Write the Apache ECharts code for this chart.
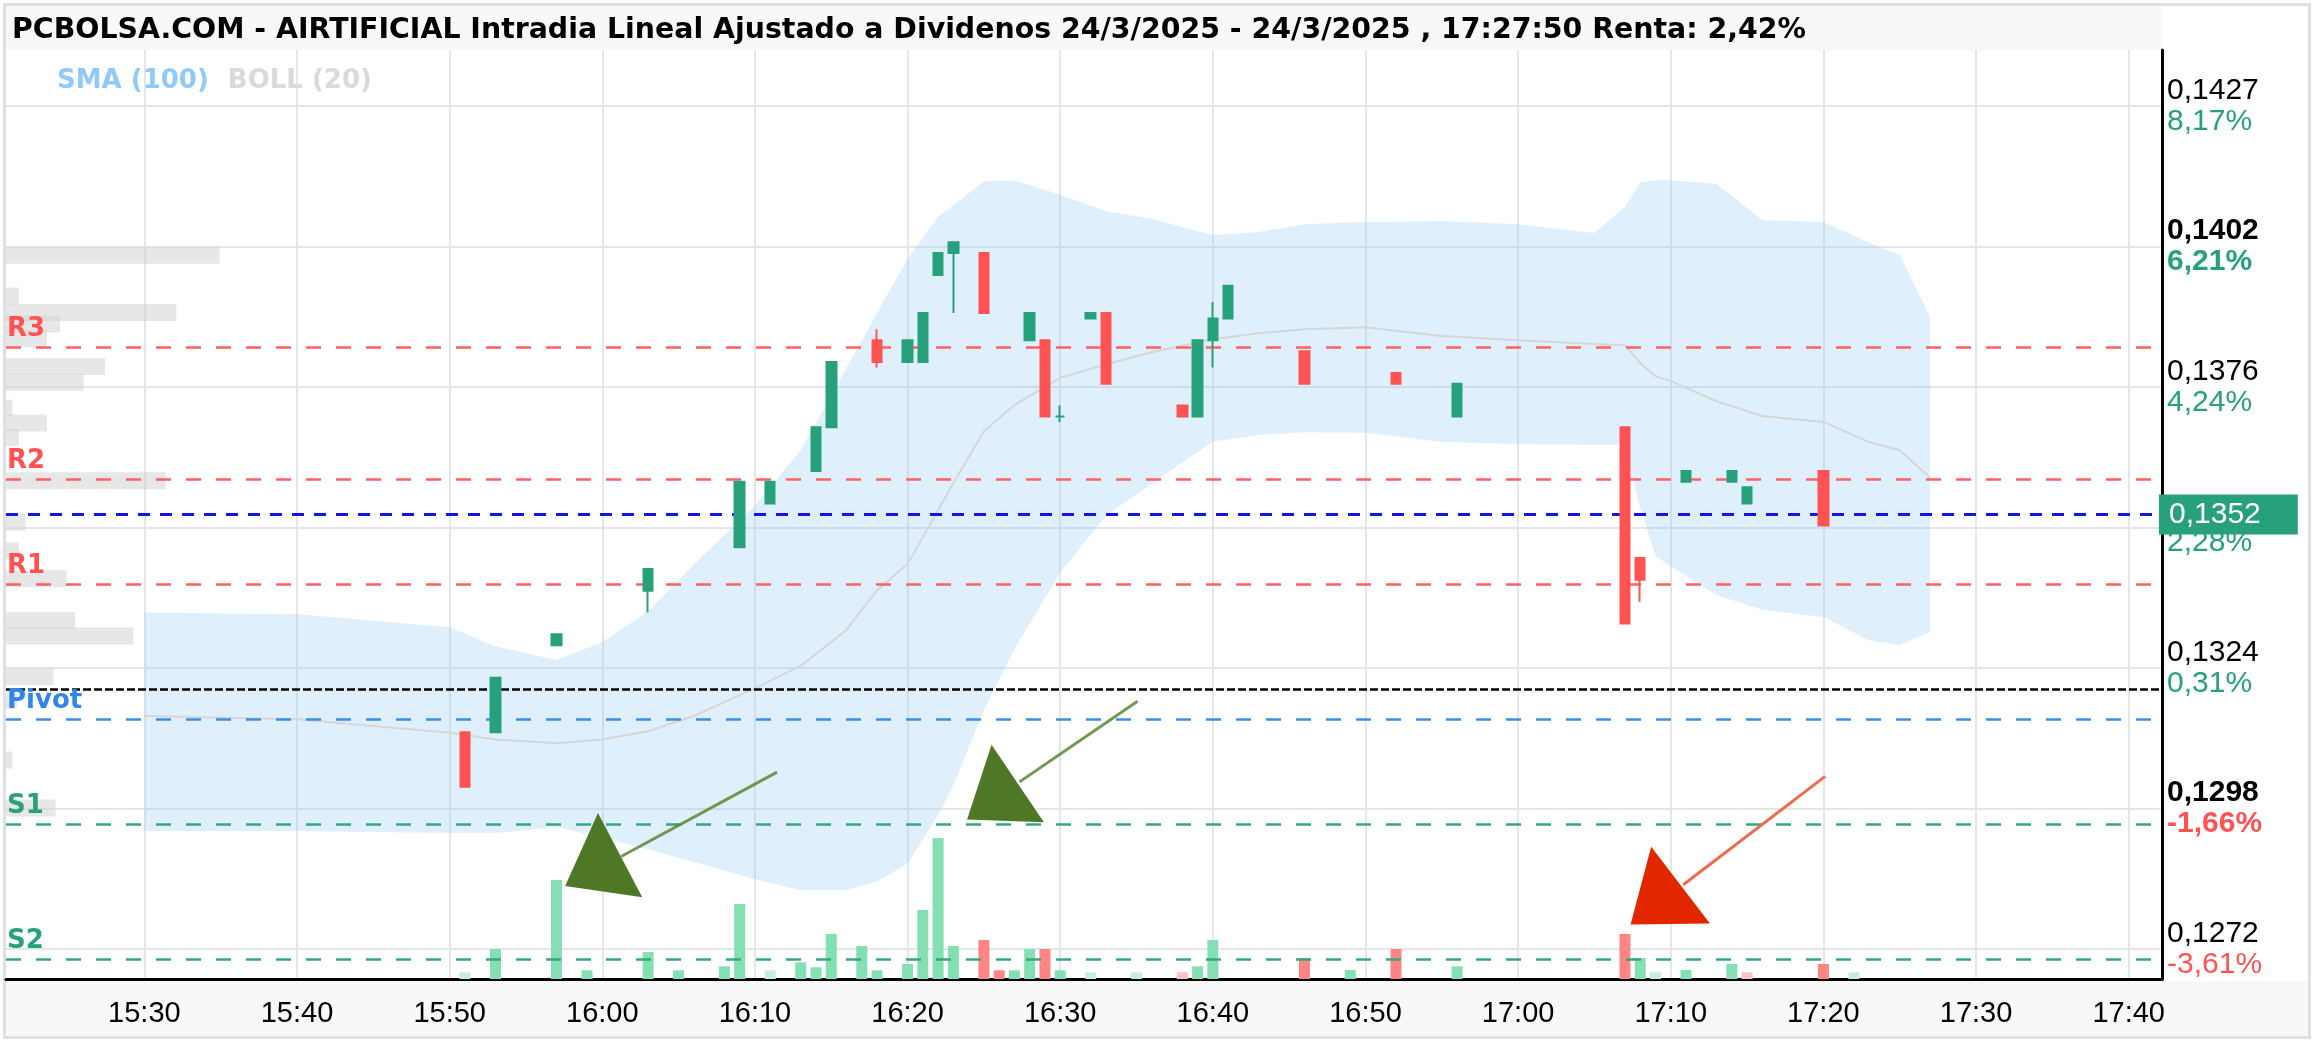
<!DOCTYPE html>
<html><head><meta charset="utf-8">
<script src="https://cdn.jsdelivr.net/npm/echarts@6/dist/echarts.min.js"></script>
<style>html,body{margin:0;padding:0;background:#fff}#c{width:2315px;height:1040px}</style>
</head><body><div id="c"></div>
<script>
// ---------------- DATA ----------------
const titleText = 'PCBOLSA.COM - AIRTIFICIAL Intradia Lineal Ajustado a Dividenos 24/3/2025 - 24/3/2025 , 17:27:50 Renta: 2,42%';

const xTickLabels = ['15:30','15:40','15:50','16:00','16:10','16:20','16:30','16:40','16:50','17:00','17:10','17:20','17:30','17:40'];

const yTickValues = [0.12722, 0.1298, 0.13238, 0.13496, 0.13754, 0.14012, 0.1427];
const yTickLabels = ['0,1272','0,1298','0,1324','0,1350','0,1376','0,1402','0,1427'];
const yTickPct    = ['-3,61%','-1,66%','0,31%','2,28%','4,24%','6,21%','8,17%'];
const boldTickLabels = ['0,1298','0,1402'];

const candleTimes = ['15:51','15:53','15:57','16:03','16:09','16:11','16:14','16:15','16:18','16:20','16:21','16:22','16:23','16:25','16:28','16:29','16:30','16:32','16:33','16:38','16:39','16:40','16:41','16:46','16:52','16:56','17:07','17:08','17:11','17:14','17:15','17:20'];
const candleOpen  = [0.1312,0.1312,0.1328,0.1338,0.1346,0.1354,0.1360,0.1368,0.1384,0.1380,0.1380,0.1396,0.1400,0.1400,0.1384,0.1384,0.1370,0.1388,0.1389,0.1372,0.1370,0.1384,0.1388,0.1382,0.1378,0.1370,0.1368,0.1344,0.1358,0.1358,0.1354,0.1360];
const candleClose = [0.1302,0.1322,0.1330,0.1342,0.1358,0.1358,0.1368,0.1380,0.1380,0.1384,0.1389,0.1400,0.1402,0.1389,0.1389,0.1370,0.1370,0.1389,0.1376,0.1370,0.1384,0.1388,0.1394,0.1376,0.1376,0.1376,0.1332,0.1340,0.1360,0.1360,0.1357,0.1350];
const candleLow   = [0.1302,0.1312,0.1328,0.1334,0.1346,0.1354,0.1360,0.1368,0.1379,0.1380,0.1380,0.1396,0.1389,0.1389,0.1384,0.1370,0.1369,0.1388,0.1376,0.1370,0.1370,0.1379,0.1388,0.1376,0.1376,0.1370,0.1332,0.1336,0.1358,0.1358,0.1354,0.1350];
const candleHigh  = [0.1312,0.1322,0.1330,0.1342,0.1358,0.1358,0.1368,0.1380,0.1386,0.1384,0.1389,0.1400,0.1402,0.1400,0.1389,0.1384,0.1372,0.1389,0.1389,0.1372,0.1384,0.1391,0.1394,0.1382,0.1378,0.1376,0.1368,0.1344,0.1360,0.1360,0.1357,0.1360];

const volTimes  = ['15:51','15:53','15:57','15:59','16:03','16:05','16:08','16:09','16:11','16:13','16:14','16:15','16:17','16:18','16:20','16:21','16:22','16:23','16:25','16:26','16:27','16:28','16:29','16:30','16:32','16:35','16:38','16:39','16:40','16:46','16:49','16:52','16:56','17:07','17:08','17:09','17:11','17:14','17:15','17:20','17:22'];
const volValues = [67000,300000,990000,87000,270000,87000,127000,750000,87000,167000,117000,450000,330000,87000,150000,690000,1410000,330000,390000,87000,87000,300000,300000,87000,67000,67000,67000,127000,390000,210000,90000,300000,127000,450000,210000,67000,90000,150000,67000,150000,67000];
const volDir    = ['pu','u','u','u','u','u','u','u','pu','u','u','u','u','u','u','u','u','u','d','d','u','u','d','u','pu','pu','pd','u','u','d','u','d','u','d','u','pu','u','u','pd','d','pu'];
const volAxisMax = 9290000;

const bandTimes = ['15:30','15:40','15:50','15:53','15:57','16:00','16:03','16:06','16:10','16:13','16:16','16:18','16:20','16:22','16:23','16:25','16:27','16:30','16:33','16:36','16:40','16:43','16:46','16:50','16:55','17:00','17:05','17:07','17:08','17:09','17:10','17:13','17:16','17:20','17:23','17:25','17:27'];
const bandUpper = [0.13340,0.13337,0.13313,0.13278,0.13253,0.13286,0.13342,0.13428,0.13536,0.13638,0.13789,0.13890,0.13989,0.14067,0.14088,0.14132,0.14134,0.14107,0.14077,0.14063,0.14033,0.14039,0.14053,0.14057,0.14059,0.14053,0.14037,0.14085,0.14130,0.14134,0.14134,0.14127,0.14061,0.14057,0.14019,0.13996,0.13883];
const bandLower = [0.12939,0.12939,0.12935,0.12935,0.12946,0.12927,0.12905,0.12882,0.12850,0.12830,0.12830,0.12846,0.12879,0.12968,0.13023,0.13161,0.13273,0.13413,0.13518,0.13577,0.13654,0.13666,0.13671,0.13670,0.13653,0.13649,0.13648,0.13648,0.13532,0.13444,0.13425,0.13372,0.13345,0.13332,0.13289,0.13280,0.13304];
const bandMid   = [0.13150,0.13144,0.13119,0.13107,0.13100,0.13107,0.13122,0.13150,0.13201,0.13242,0.13308,0.13381,0.13429,0.13528,0.13578,0.13673,0.13721,0.13771,0.13796,0.13818,0.13842,0.13853,0.13860,0.13864,0.13848,0.13840,0.13833,0.13831,0.13798,0.13774,0.13765,0.13728,0.13701,0.13690,0.13653,0.13638,0.13587];

const profilePrice = [0.13996,0.13921,0.13891,0.13870,0.13843,0.13792,0.13763,0.13715,0.13688,0.13661,0.13582,0.13506,0.13453,0.13402,0.13325,0.13297,0.13222,0.13179,0.13069,0.12981];
const profileVol   = [99,6,79,25,19,46,36,3,19,6,74,9,6,28,32,59,22,5,3,23];

const levelNames  = ['R3','R2','R1','Pivot','S1','S2'];
const levelValues = [0.13827,0.13585,0.13392,0.13144,0.12952,0.12704];
const prevClose = 0.1320;
const lastPrice = 0.1352;
const lastPriceLabel = '0,1352';

const arrowApex      = [['15:59:43',0.12972],['16:25:30',0.13097],['17:08:43',0.12910]];
const arrowBaseLeft  = [['15:57:34',0.12838],['16:23:54',0.12960],['17:07:22',0.12767]];
const arrowBaseRight = [['16:02:37',0.12817],['16:28:56',0.12955],['17:12:34',0.12769]];
const arrowJoin      = [['16:01:14',0.12892],['16:27:20',0.13029],['17:10:49',0.12840]];
const arrowTail      = [['16:11:27',0.13047],['16:35:04',0.13177],['17:20:07',0.13039]];
const arrowKind      = ['up','up','down'];

// ---------------- HELPERS ----------------
function toMin(t){ const p=t.split(':').map(Number); return p[0]*60+p[1]+(p[2]||0)/60; }
const xTickVals = xTickLabels.map(toMin);
const xMin = toMin('15:20:56'), xMax = toMin('17:42:11');
const yMin = 0.12667, yMax = 0.14373;

const FONT = '"Liberation Sans", Arial, sans-serif';
const BOLDFONT = '"DejaVu Sans", sans-serif';
const GREEN = '#26a17b', RED = '#ff5252';
const volColor = {u:'#84e0b3', pu:'#c4f0da', d:'#ff8585', pd:'#ffc2c2'};
const levelColor = {R:'#ff5252', P:'#2f86e6', S:'#26a17b'};
const levelLine  = {R:'#ff6060', P:'#3a8ee8', S:'#34a880'};

const chart = echarts.init(document.getElementById('c'));

const markData = levelNames.map((n,i)=>{
  const k = n[0];
  return {
    name:n, yAxis:levelValues[i],
    lineStyle:{color:levelLine[k], type:[15,15], width:2.5},
    label:{show:true, position:'insideStartTop', formatter:n, color:levelColor[k], fontSize:26, fontWeight:'bold', fontFamily:BOLDFONT, distance:[1,5]}
  };
});
markData.push({yAxis:prevClose, lineStyle:{color:'#000', type:[8,3], width:2.5}, label:{show:false}});
markData.push({yAxis:lastPrice, lineStyle:{color:'#1414e6', type:[12,10], width:3},
  label:{show:true, position:'end', formatter:lastPriceLabel, color:'#fff', backgroundColor:'#26a17b',
         padding:[5,37,5,10], fontSize:30, fontFamily:FONT, distance:-3}});

const option = {
  animation:false,
  backgroundColor:'#fff',
  textStyle:{fontFamily:FONT},
  title:{text:titleText, left:7, top:12, textStyle:{fontSize:28.4, fontWeight:'bold', color:'#000', fontFamily:BOLDFONT}},
  legend:{left:47, top:63, icon:'none', itemWidth:0, itemHeight:0, itemGap:14, selectedMode:false,
    textStyle:{fontSize:26, fontWeight:'bold', fontFamily:BOLDFONT},
    data:[{name:'SMA (100)', textStyle:{color:'#90caf9'}},{name:'BOLL (20)', textStyle:{color:'#dadada'}}]},
  grid:{left:6, right:153, top:50, bottom:61, containLabel:false, outerBoundsMode:'none'},
  graphic:[
    {type:'rect', z:-10, silent:true, shape:{x:6, y:6, width:2156, height:44}, style:{fill:'#f8f8f8'}},
    {type:'rect', z:-10, silent:true, shape:{x:6, y:981, width:2302, height:55}, style:{fill:'#f8f8f8'}},
    {type:'rect', z:-9, silent:true, shape:{x:4.5, y:4.5, width:2305, height:1033}, style:{fill:'none', stroke:'#e0e0e0', lineWidth:3}}
  ],
  xAxis:[
    {type:'value', min:xMin, max:xMax, position:'bottom',
     axisLine:{show:true, onZero:false, lineStyle:{color:'#000', width:3}},
     axisTick:{show:false, customValues:xTickVals},
     axisLabel:{customValues:xTickVals, fontSize:29, color:'#000', margin:20, fontFamily:FONT,
       formatter:(v)=>{ const i=xTickVals.findIndex(t=>Math.abs(t-v)<1e-6); return i>=0?xTickLabels[i]:''; }},
     splitLine:{show:true, lineStyle:{color:'#e6e6e6', width:2}}},
    {type:'value', min:0, max:1000, show:false, position:'top', splitLine:{show:false}}
  ],
  yAxis:[
    {type:'value', min:yMin, max:yMax, position:'right',
     axisLine:{show:true, onZero:false, lineStyle:{color:'#000', width:3}},
     axisTick:{show:false, customValues:yTickValues},
     axisLabel:{customValues:yTickValues, margin:5, align:'left', fontFamily:FONT,
       formatter:(v)=>{
         const i=yTickValues.findIndex(t=>Math.abs(t-v)<1e-7); if(i<0) return '';
         const b = boldTickLabels.indexOf(yTickLabels[i])>=0;
         const neg = yTickPct[i].charAt(0)==='-';
         return '{'+(b?'pb':'p')+'|'+yTickLabels[i]+'}\n{'+(neg?'r':'g')+(b?'b':'')+'|'+yTickPct[i]+'}';
       },
       rich:{
         p:{fontSize:30, color:'#000', lineHeight:31, fontFamily:FONT},
         pb:{fontSize:30, color:'#000', lineHeight:31, fontWeight:'bold', fontFamily:FONT},
         g:{fontSize:30, color:GREEN, lineHeight:31, fontFamily:FONT},
         gb:{fontSize:30, color:GREEN, lineHeight:31, fontWeight:'bold', fontFamily:FONT},
         r:{fontSize:30, color:RED, lineHeight:31, fontFamily:FONT},
         rb:{fontSize:30, color:RED, lineHeight:31, fontWeight:'bold', fontFamily:FONT}
       }},
     splitLine:{show:true, lineStyle:{color:'#e6e6e6', width:2}}},
    {type:'value', min:0, max:volAxisMax, show:false, splitLine:{show:false}}
  ],
  series:[
    {type:'custom', name:'bollBand', xAxisIndex:0, yAxisIndex:0, silent:true, z:1,
     data:[[toMin(bandTimes[0]), bandUpper[0]]],
     renderItem:(params, api)=>{
       const pts=[];
       for(let i=0;i<bandTimes.length;i++) pts.push(api.coord([toMin(bandTimes[i]), bandUpper[i]]));
       for(let i=bandTimes.length-1;i>=0;i--) pts.push(api.coord([toMin(bandTimes[i]), bandLower[i]]));
       return {type:'polygon', shape:{points:pts}, style:{fill:'rgba(150,205,245,0.3)'}};
     }},
    {type:'custom', name:'perfil', xAxisIndex:1, yAxisIndex:0, silent:true, z:1,
     data:profilePrice.map((p,i)=>[profileVol[i], p]), encode:{x:0, y:1},
     renderItem:(params, api)=>{
       const p0=api.coord([0, api.value(1)]), p1=api.coord([api.value(0), api.value(1)]);
       const h=17;
       return {type:'rect', shape:{x:p0[0], y:p0[1]-h/2, width:p1[0]-p0[0], height:h}, style:{fill:'rgba(212,212,212,0.55)'}};
     }},
    {type:'line', name:'BOLL (20)', symbol:'none', silent:true, z:2, color:'#d9d9d9',
     lineStyle:{color:'#d6d6d6', width:2}, data:bandTimes.map((t,i)=>[toMin(t), bandMid[i]])},
    {type:'line', name:'SMA (100)', color:'#90caf9', data:[]},
    {type:'bar', name:'Volumen', xAxisIndex:0, yAxisIndex:1, barWidth:11, silent:true, z:2,
     data:volTimes.map((t,i)=>({value:[toMin(t), volValues[i]], itemStyle:{color:volColor[volDir[i]]}}))},
    {type:'candlestick', name:'AIRTIFICIAL', xAxisIndex:0, yAxisIndex:0, barWidth:10, clip:false, z:5,
     encode:{x:0, y:[1,2,3,4]},
     data:candleTimes.map((t,i)=>[toMin(t), candleOpen[i], candleClose[i], candleLow[i], candleHigh[i]]),
     itemStyle:{color:GREEN, color0:RED, borderColor:GREEN, borderColor0:RED, borderWidth:2},
     markLine:{silent:true, symbol:['none','none'], animation:false, precision:5, data:markData}},
    {type:'custom', name:'flechas', xAxisIndex:0, yAxisIndex:0, silent:true, z:10, clip:false,
     data:arrowApex.map(a=>[toMin(a[0]), a[1]]),
     renderItem:(params, api)=>{
       const i=params.dataIndex;
       const c=(p)=>api.coord([toMin(p[0]), p[1]]);
       const up = arrowKind[i]==='up';
       const fill = up ? '#4e7826' : '#e12600';
       const stroke = up ? 'rgba(90,135,50,0.85)' : 'rgba(238,90,60,0.9)';
       const a=c(arrowTail[i]), b=c(arrowJoin[i]);
       return {type:'group', children:[
         {type:'line', shape:{x1:a[0], y1:a[1], x2:b[0], y2:b[1]}, style:{stroke:stroke, lineWidth:3}},
         {type:'polygon', shape:{points:[c(arrowApex[i]), c(arrowBaseLeft[i]), c(arrowBaseRight[i])]}, style:{fill:fill}}
       ]};
     }}
  ]
};
chart.setOption(option);
</script>
</body></html>
